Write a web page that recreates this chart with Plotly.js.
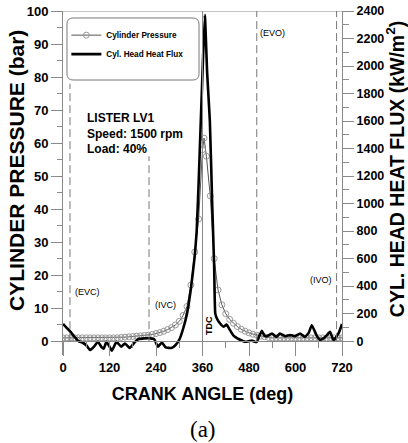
<!DOCTYPE html>
<html>
<head>
<meta charset="utf-8">
<script src="https://cdn.plot.ly/plotly-3.0.1.min.js"></script>
<style>html,body{margin:0;padding:0;background:#fff;}#chart{width:408px;height:443px;}</style>
</head>
<body>
<div id="chart"></div>
<script>
// Cylinder pressure (bar) vs crank angle (deg)
const pressureAngle = [0,10,20,30,40,50,60,70,80,90,100,110,120,130,140,150,160,170,180,190,200,210,220,230,240,250,260,270,280,290,300,310,320,330,340,350,360,364,370,380,390,400,410,420,430,440,450,460,470,480,490,500,510,520,530,540,550,560,570,580,590,600,610,620,630,640,650,660,670,680,690,700,710,720];
const pressureBar = [1.0,1.0,1.0,1.0,1.0,1.0,1.0,1.0,1.0,1.0,1.0,1.0,1.0,1.0,1.0,1.1,1.2,1.3,1.4,1.5,1.6,1.7,1.8,2.0,2.3,2.6,3.0,3.5,4.1,4.9,6.0,7.8,10.5,17,27,37,58,61.5,56,44,25,15.5,11,8.3,6.6,5.4,4.4,3.6,3.0,2.5,2.1,1.8,1.5,1.3,1.1,1.0,1.0,1.0,1.0,1.0,1.0,1.0,1.0,1.0,1.0,1.0,1.0,1.0,1.0,1.0,1.0,1.0,1.0,1.0];

// Cylinder head heat flux (kW/m2) vs crank angle (deg)
const fluxAngle = [0,10,20,30,40,50,60,70,80,90,100,105,112,120,126,138,150,160,172,186,195,210,225,235,245,255,265,280,290,300,310,320,330,340,345,350,355,360,366,372,379,385,390,393,398,405,414,422,431,440,450,457,470,480,487,495,500,513,520,526,539,551,560,573,586,599,612,624,634,642,654,663,672,680,689,698,711,720];
const fluxKW = [125,95,65,30,0,-10,-30,-65,-40,-5,-45,-55,-5,-40,-70,-5,-40,-17,-50,-5,15,20,20,15,-40,-10,-45,-50,-30,10,90,200,380,620,800,1150,1550,1950,2370,1950,1600,1000,550,200,160,130,105,120,80,40,20,10,-5,0,5,-5,-5,75,40,35,56,31,56,36,44,36,56,31,60,116,44,10,20,40,68,7,56,125];

// Valve events and markers
const eventNames = ['(EVC)','(IVC)','(EVO)','(IVO)'];
const eventAngle = [18,222,500,706];
const eventTop = [78,56,100,100];

// Axis ticks
const xTicks = [0,120,240,360,480,600,720];
const yTicks = [0,10,20,30,40,50,60,70,80,90,100];
const y2Ticks = [0,200,400,600,800,1000,1200,1400,1600,1800,2000,2200,2400];
const y2Minor = [100,300,500,700,900,1100,1300,1500,1700,1900,2100,2300];

const FONT = 'Liberation Sans, Arial, sans-serif';
const axisGray = '#8a8a8a';
const yMin = -4.2, yMax = 100;
const y2Min = yMin*24, y2Max = 2400;

const traces = [
  {x: pressureAngle, y: pressureBar, type:'scatter', mode:'lines+markers', name:'Cylinder Pressure',
   line:{color:'#555', width:1}, marker:{symbol:'circle-open', size:6, color:'#999', line:{width:1, color:'#999'}},
   legendgroup:'a'},
  {x: fluxAngle, y: fluxKW, type:'scatter', mode:'lines', name:'Cyl. Head Heat Flux', yaxis:'y2',
   line:{color:'#000', width:2.6, shape:'spline', smoothing:0.4}, legendgroup:'b'}
];

const shapes = [];
shapes.push({type:'line', xref:'paper', yref:'y', x0:0, x1:1, y0:yMax, y1:yMax, line:{color:axisGray, width:1}});
shapes.push({type:'line', xref:'x', yref:'paper', x0:360, x1:360, y0:0, y1:1, line:{color:axisGray, width:1}});
for (let i=0;i<eventAngle.length;i++){
  shapes.push({type:'line', xref:'x', yref:'y', x0:eventAngle[i], x1:eventAngle[i], y0:0, y1:eventTop[i],
    line:{color:'#777', width:1, dash:'8px,4px'}});
}
(function(){
  const x0=0.0143, x1=0.4875, yb=0.7994, yt=0.9797, rx=0.022, ry=0.018;
  const p = `M ${x0+rx},${yt} L ${x1-rx},${yt} Q ${x1},${yt} ${x1},${yt-ry} L ${x1},${yb+ry} Q ${x1},${yb} ${x1-rx},${yb} L ${x0+rx},${yb} Q ${x0},${yb} ${x0},${yb+ry} L ${x0},${yt-ry} Q ${x0},${yt} ${x0+rx},${yt} Z`;
  shapes.push({type:'path', xref:'paper', yref:'paper', path:p, line:{color:'#777', width:1}, fillcolor:'rgba(255,255,255,1)', layer:'below'});
})();

const annotations = [];
const evX = [26,232,503,700];
const evY = [15,11,93.3,18.5];
const evAnchor = ['left','left','left','right'];
for (let i=0;i<eventNames.length;i++){
  annotations.push({x:evX[i], y:evY[i], xref:'x', yref:'y', text:eventNames[i], showarrow:false,
    xanchor:evAnchor[i], yanchor:'middle', font:{family:FONT, size:9, color:'#000'}});
}
annotations.push({x:377, y:4.6, xref:'x', yref:'y', text:'TDC', textangle:-90, showarrow:false,
  font:{family:FONT, size:9, color:'#000', weight:'bold'}});
annotations.push({x:57, y:62.9, xref:'x', yref:'y', text:'LISTER LV1<br>Speed: 1500 rpm<br>Load: 40%', align:'left',
  showarrow:false, xanchor:'left', yanchor:'middle', font:{family:FONT, size:12, color:'#000', weight:'bold'}});
annotations.push({x:0.502, y:-0.218, xref:'paper', yref:'paper', text:'(a)', showarrow:false,
  xanchor:'center', yanchor:'middle', font:{family:'Liberation Serif, Times New Roman, serif', size:23, color:'#000'}});
// axis titles placed as rotated text
annotations.push({x:-0.165, y:0.538, xref:'paper', yref:'paper', text:'CYLINDER PRESSURE (bar)', textangle:-90,
  showarrow:false, xanchor:'center', yanchor:'middle', font:{family:FONT, size:21, color:'#000', weight:'bold'}});
annotations.push({x:1.191, y:0.541, xref:'paper', yref:'paper', text:'CYL. HEAD HEAT FLUX (kW/m<sup>2</sup>)', textangle:-90,
  showarrow:false, xanchor:'center', yanchor:'middle', font:{family:FONT, size:19.5, color:'#000', weight:'bold'}});

const layout = {
  width:408, height:443,
  margin:{l:63, r:66, t:11, b:88, pad:0},
  paper_bgcolor:'#fff', plot_bgcolor:'#fff',
  showlegend:true,
  legend:{x:0.012, y:0.972, xanchor:'left', yanchor:'top', bgcolor:'rgba(0,0,0,0)', borderwidth:0,
    font:{family:FONT, size:8.2, color:'#000', weight:'bold'}, tracegroupgap:0, traceorder:'normal', itemwidth:30},
  xaxis:{range:[0,720], anchor:'free', position:(0-yMin)/(yMax-yMin), tickmode:'array', tickvals:xTicks,
    ticks:'outside', ticklen:14, tickwidth:1, tickcolor:axisGray, showline:true, linecolor:axisGray, linewidth:1,
    showgrid:false, zeroline:false,
    minor:{dtick:60, ticks:'outside', ticklen:6, tickcolor:axisGray},
    tickfont:{family:FONT, size:13, color:'#000', weight:'bold'},
    title:{text:'CRANK ANGLE (deg)', standoff:13, font:{family:FONT, size:18, color:'#000', weight:'bold'}}},
  yaxis:{range:[yMin,yMax], tickmode:'array', tickvals:yTicks, ticks:'outside', ticklen:11, tickcolor:axisGray,
    showline:true, linecolor:axisGray, linewidth:1, showgrid:false, zeroline:true, zerolinecolor:'#666', zerolinewidth:1,
    minor:{dtick:5, ticks:'outside', ticklen:5, tickcolor:axisGray},
    tickfont:{family:FONT, size:13, color:'#000', weight:'bold'}},
  yaxis2:{range:[y2Min,y2Max], overlaying:'y', side:'right', tickmode:'array', tickvals:y2Ticks, ticks:'outside', ticklen:11,
    tickcolor:axisGray, showline:true, linecolor:axisGray, linewidth:1, showgrid:false, zeroline:false,
    minor:{tickmode:'array', tickvals:y2Minor, ticks:'outside', ticklen:6, tickcolor:axisGray},
    tickfont:{family:FONT, size:12.5, color:'#000', weight:'bold'}},
  shapes:shapes,
  annotations:annotations
};

Plotly.newPlot('chart', traces, layout, {staticPlot:true, displayModeBar:false});
</script>
</body>
</html>
